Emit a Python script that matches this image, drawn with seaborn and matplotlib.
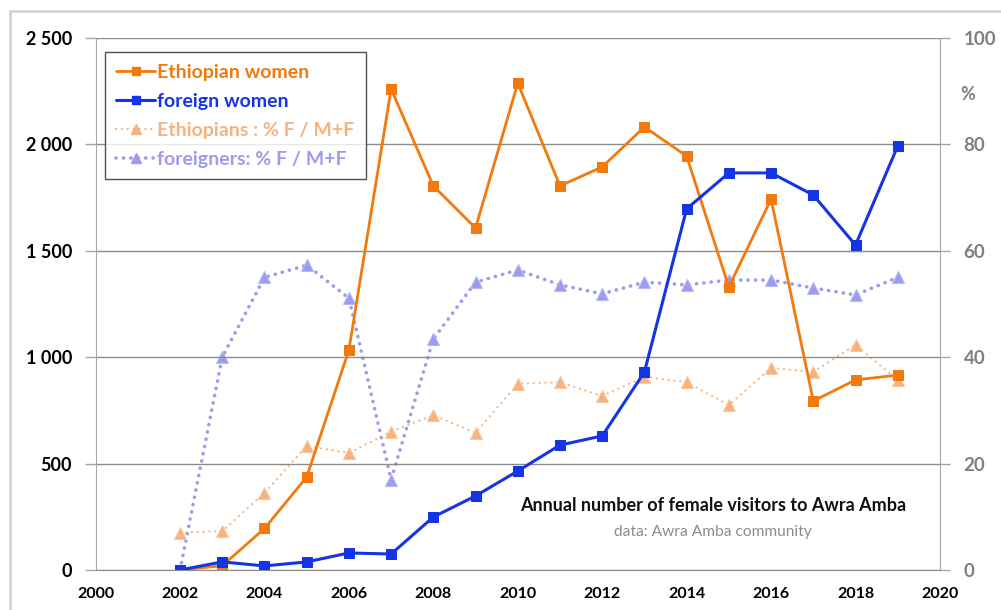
import matplotlib
matplotlib.use("Agg")
import matplotlib.pyplot as plt
import seaborn as sns
from matplotlib.patches import Rectangle
from matplotlib.lines import Line2D

sns.set_style("white")
plt.rcParams['font.family'] = ['Lato', 'DejaVu Sans']

years = list(range(2002, 2020))
ethiopian_women = [0, 20, 195, 437, 1034, 2260, 1805, 1607, 2288, 1805, 1894, 2082,
                   1945, 1330, 1743, 794, 893, 916]
foreign_women = [0, 38, 19, 38, 80, 75, 249, 348, 465, 587, 630, 930,
                 1697, 1866, 1866, 1762, 1527, 1992]
ethiopians_pct = [7.0, 7.3, 14.5, 23.3, 22.0, 26.0, 29.1, 25.8, 35.0, 35.3, 32.7, 36.3,
                  35.3, 31.0, 38.0, 37.2, 42.3, 35.7]
foreigners_pct = [0, 40, 55, 57.3, 51.1, 17, 43.4, 54.1, 56.4, 53.6, 51.9, 54.1,
                  53.6, 54.5, 54.5, 53.0, 51.7, 55.0]

left_ticks = [0, 500, 1000, 1500, 2000, 2500]
left_labels = ["0", "500", "1 000", "1 500", "2 000", "2 500"]
right_ticks = [0, 20, 40, 60, 80, 100]
x_ticks = list(range(2000, 2021, 2))

labels = ["Ethiopian women", "foreign women", "Ethiopians : % F / M+F", "foreigners: % F / M+F"]
c_eth = "#F27A0C"
c_for = "#1434E6"
c_eth_pct = "#F6B380"
c_for_pct = "#9C9CEE"

dot_blue = (0, (0.05, 2.0))
dot_orange = (0, (0.05, 2.6))

fig = plt.figure(figsize=(10.01, 6.10), dpi=100)
ax = fig.add_axes([0.0955, 0.0656, 0.8435, 0.8721])
ax2 = ax.twinx()

# percentage series (right axis)
sns.lineplot(x=years, y=foreigners_pct, ax=ax2, color=c_for_pct, linestyle=dot_blue,
             linewidth=2.6, marker='^', markersize=8, markeredgecolor="#B8B8F2",
             markeredgewidth=0.8, dash_capstyle='round')
sns.lineplot(x=years, y=ethiopians_pct, ax=ax2, color=c_eth_pct, linestyle=dot_orange,
             linewidth=1.6, marker='^', markersize=8, markeredgecolor="#F8C8A0",
             markeredgewidth=0.8, dash_capstyle='round')

# counts (left axis)
sns.lineplot(x=years, y=ethiopian_women, ax=ax, color=c_eth, linewidth=2.0,
             marker='s', markersize=6.5, markeredgecolor=c_eth)
sns.lineplot(x=years, y=foreign_women, ax=ax, color=c_for, linewidth=2.2,
             marker='s', markersize=6.5, markeredgecolor=c_for)

ax.set_zorder(ax2.get_zorder() + 1)
ax.patch.set_visible(False)

ax.set_xlim(2000, 2020)
ax.set_ylim(0, 2500)
ax2.set_ylim(0, 100)
ax.set_xticks(x_ticks)
ax.set_xticklabels([str(t) for t in x_ticks], fontsize=11.5, fontweight='bold', color='black')
ax.set_yticks(left_ticks)
ax.set_yticklabels(left_labels, fontsize=13, fontweight='bold', color='black')
ax2.set_yticks(right_ticks)
ax2.set_yticklabels([str(t) for t in right_ticks], fontsize=13.5, fontweight='bold', color='#7F7F7F')

ax.grid(axis='y', color='#8C8C8C', linewidth=1.0)
ax.grid(axis='x', visible=False)
ax2.grid(False)

grey = '#A6A6A6'
for a in (ax, ax2):
    for s in a.spines.values():
        s.set_visible(False)
ax.spines['left'].set_visible(True)
ax.spines['left'].set_color(grey)
ax.spines['bottom'].set_visible(True)
ax.spines['bottom'].set_color('#8C8C8C')
ax2.spines['right'].set_visible(True)
ax2.spines['right'].set_color(grey)

ax.tick_params(axis='y', which='major', length=8, width=1, color=grey, direction='out', pad=9)
ax.tick_params(axis='x', which='major', length=8, width=1, color=grey, direction='inout', pad=8)
ax2.tick_params(axis='y', which='major', length=7, width=1, color=grey, direction='out', pad=10)

ax.set_xlabel("")
ax.set_ylabel("")
ax2.set_ylabel("")

# legend
handles = [
    Line2D([], [], color=c_eth, linewidth=2.0, marker='s', markersize=6),
    Line2D([], [], color=c_for, linewidth=2.2, marker='s', markersize=6),
    Line2D([], [], color=c_eth_pct, linewidth=1.6, linestyle=dot_orange, marker='^',
           markersize=7, dash_capstyle='round'),
    Line2D([], [], color=c_for_pct, linewidth=2.6, linestyle=dot_blue, marker='^',
           markersize=7, dash_capstyle='round'),
]
leg = ax.legend(handles, labels, loc='upper left', bbox_to_anchor=(0.0107, 0.974),
                borderaxespad=0, frameon=True, fancybox=False, handlelength=2.0,
                handletextpad=0.1, labelspacing=0.62, borderpad=0.6,
                prop={'size': 14, 'weight': 'bold'})
leg.get_frame().set_edgecolor('#222222')
leg.get_frame().set_linewidth(1.0)
for txt, col in zip(leg.get_texts(), [c_eth, c_for, c_eth_pct, c_for_pct]):
    txt.set_color(col)

# annotations
ax.text(0.7315, 0.121, "Annual number of female visitors to Awra Amba", transform=ax.transAxes,
        ha='center', va='center', fontsize=13, fontweight='bold', color='#111111')
ax.text(0.7315, 0.071, "data: Awra Amba community", transform=ax.transAxes,
        ha='center', va='center', fontsize=11.2, color='#8C8C8C')
fig.text(960 / 1001, 1 - 95 / 610, "%", ha='left', va='center', fontsize=13,
         fontweight='bold', color='#7F7F7F')

# outer light border
fig.add_artist(Rectangle((10 / 1001, -0.2), 1.2, 0.2 + 1 - 11 / 610, fill=False,
                         edgecolor='#D4D4D4', linewidth=2.0, transform=fig.transFigure,
                         clip_on=False))

fig.savefig("out.png", dpi=100)
